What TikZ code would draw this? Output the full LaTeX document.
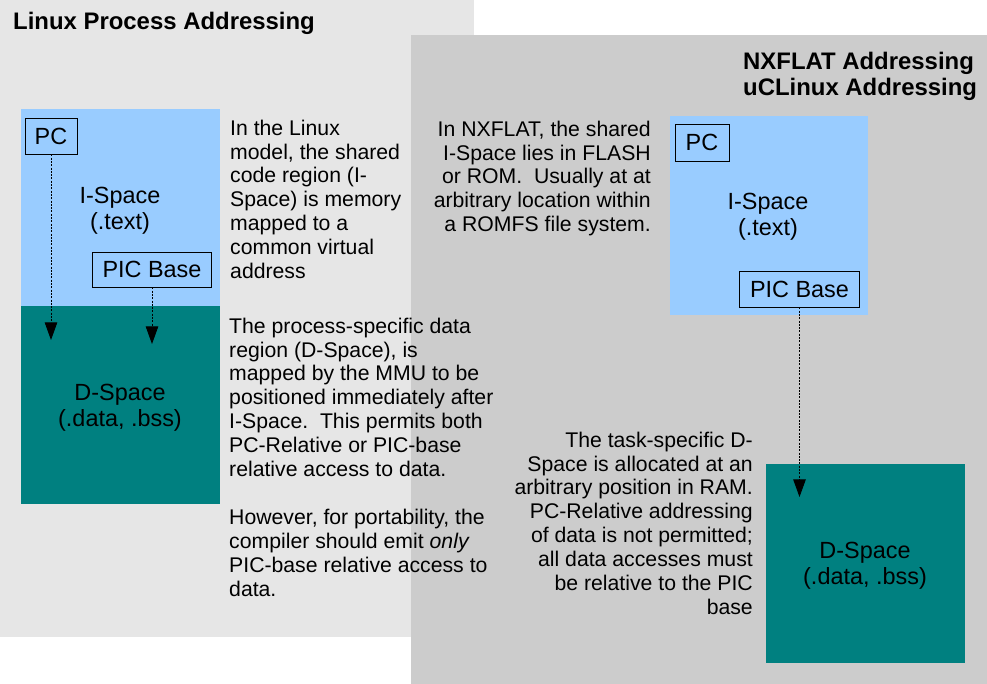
\documentclass[tikz,border=0pt]{standalone}
\usepackage{fontspec}
\setmainfont{Liberation Sans}
\usetikzlibrary{arrows.meta}
\definecolor{panelA}{HTML}{E6E6E6}
\definecolor{panelB}{HTML}{CCCCCC}
\definecolor{ispace}{HTML}{99CCFF}
\definecolor{dspace}{HTML}{008080}
\def\bodyfont{\fontsize{21.3}{24}\selectfont}
\def\labelfont{\fontsize{23.5}{26}\selectfont}
\def\titlefont{\fontsize{24}{26}\selectfont\bfseries}
\tikzset{
  regbox/.style={draw, line width=0.8bp, font=\labelfont, inner sep=0pt},
  memlabel/.style={font=\labelfont, align=center, anchor=north, inner sep=0pt},
  note/.style={font=\bodyfont, inner sep=0pt},
  ptr/.style={line width=0.9bp, dash pattern=on 2bp off 1.3bp, arrows={-{Triangle[length=6.2mm, width=4.4mm]}}}
}
\begin{document}
\begin{tikzpicture}[x=1bp, y=-1bp]
			%%%%% START %%%%%
			\useasboundingbox (0, 0) rectangle (987, 684);
			
			\fill[panelA] (0, 0) rectangle (474, 637);
			\fill[panelB] (411, 35) rectangle (987, 684);
			
			\node[font=\titlefont, anchor=north west, inner sep=0pt] (titleL) at (13, 11) {\strut Linux Process Addressing};
			\node[font=\titlefont, anchor=north west, inner sep=0pt, align=left] (titleR) at (743, 50.8) {\strut NXFLAT Addressing\\uCLinux Addressing};
			
			%% linux side
			\fill[ispace] (21, 109) rectangle (220, 306);
			\fill[dspace] (21, 306) rectangle (220, 504);
			\node[memlabel] (ispaceL) at (120, 184.8) {\strut I-Space\\(.text)};
			\node[memlabel] (dspaceL) at (120, 381.8) {\strut D-Space\\(.data, .bss)};
			\node[regbox, minimum width=52, minimum height=36] (pcL) at (51, 136) {PC};
			\node[regbox, minimum width=120, minimum height=35] (picL) at (152, 269.5) {PIC Base};
			\coordinate (pcLend) at (51, 340);
			\coordinate (picLend) at (152, 344);
			\draw[ptr] (pcL) -- (pcLend);
			\draw[ptr] (picL) -- (picLend);
			
			\node[note, anchor=north west, align=left] (noteA) at (230, 118.2) {\strut In the Linux\\model, the shared\\code region (I-\\Space) is memory\\mapped to a\\common virtual\\address};
			\node[note, anchor=north west, align=left] (noteB) at (229, 316.2) {\strut The process-specific data\\region (D-Space), is\\mapped by the MMU to be\\positioned immediately after\\I-Space.\ \ This permits both\\PC-Relative or PIC-base\\relative access to data.\\[24bp]However, for portability, the\\compiler should emit \textit{only}\\PIC-base relative access to\\data.};
			
			%% nxflat side
			\fill[ispace] (670, 116) rectangle (868, 315);
			\fill[dspace] (766, 464) rectangle (965, 663);
			\node[memlabel] (ispaceR) at (768, 190.8) {\strut I-Space\\(.text)};
			\node[memlabel] (dspaceR) at (865, 539.8) {\strut D-Space\\(.data, .bss)};
			\node[regbox, minimum width=54, minimum height=37] (pcR) at (702, 142.5) {PC};
			\node[regbox, minimum width=121, minimum height=36] (picR) at (799.5, 289) {PIC Base};
			\coordinate (picRend) at (799.5, 497);
			\draw[ptr] (picR) -- (picRend);
			
			\node[note, anchor=north east, align=right] (noteC) at (651, 119.2) {\strut In NXFLAT, the shared\\I-Space lies in FLASH\\or ROM.\ \ Usually at at\\arbitrary location within\\a ROMFS file system.};
			\node[note, anchor=north east, align=right] (noteD) at (753, 430.2) {\strut The task-specific D-\\Space is allocated at an\\arbitrary position in RAM.\\PC-Relative addressing\\of data is not permitted;\\all data accesses must\\be relative to the PIC\\base};
			%%%%% END %%%%%
\end{tikzpicture}
\end{document}
